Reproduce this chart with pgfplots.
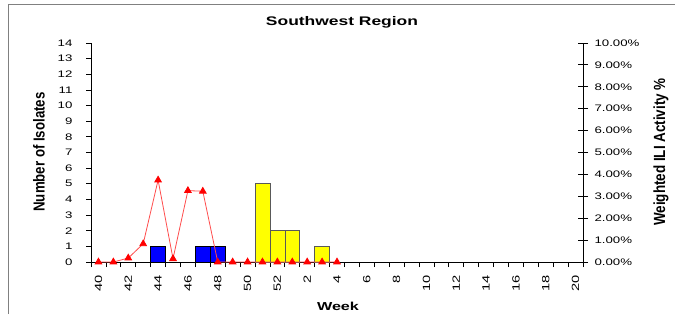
\documentclass[border=0pt]{standalone}
\usepackage{fontspec}
\setmainfont{Liberation Sans}
\newfontfamily\widefont[FakeStretch=1.4]{Liberation Sans}
\usepackage{pgfplots}
\pgfplotsset{compat=1.18}
\definecolor{barblue}{RGB}{0,0,255}
\definecolor{baryellow}{RGB}{255,255,0}
\definecolor{ilired}{RGB}{255,0,0}
\definecolor{framegray}{RGB}{128,128,128}
\begin{document}
\begin{tikzpicture}[x=1bp,y=1bp]
\useasboundingbox (0,0) rectangle (675,314);
\draw[framegray, line width=1bp] (8,0) -- (8,309) -- (675,309);
\begin{axis}[
  at={(91bp,52bp)}, anchor=south west,
  scale only axis, width=492bp, height=219bp,
  xmin=-0.5, xmax=32.5, ymin=0, ymax=14,
  axis x line*=bottom, axis y line*=left,
  axis line style={black, line width=0.8bp, -},
  tick align=outside,
  /pgf/number format/assume math mode=true,
  ytick={0,1,...,14},
  xtick={0,2,...,32},
  xticklabels={40,42,44,46,48,50,52,2,4,6,8,10,12,14,16,18,20},
  major x tick style={draw=none},
  minor xtick={-0.5,0.5,...,32.5},
  minor tick length=5bp,
  major tick length=5bp,
  tick style={black, line width=0.8bp},
  ticklabel style={font=\widefont\fontsize{9.5}{11}\selectfont},
  xticklabel style={font=\widefont\fontsize{10.5}{12}\selectfont, rotate=90, anchor=east, xshift=-5bp},
  yticklabel style={xshift=-10bp},
  clip=false,
]
\addplot[ybar, bar width=1, bar shift=0pt, fill=barblue, draw=black, line width=0.6bp]
  coordinates {(4,1) (7,1) (8,1)};
\addplot[ybar, bar width=1, bar shift=0pt, fill=baryellow, draw=black!65, line width=0.6bp]
  coordinates {(11,5) (12,2) (13,2) (15,1)};
\end{axis}
\begin{axis}[
  at={(91bp,52bp)}, anchor=south west,
  scale only axis, width=492bp, height=219bp,
  xmin=-0.5, xmax=32.5, ymin=0, ymax=10,
  axis x line=none, axis y line*=right,
  axis line style={black, line width=0.8bp, -},
  tick align=center, major tick length=10bp,
  tick style={black, line width=0.8bp},
  ytick={0,1,...,10},
  yticklabels={0.00\%,1.00\%,2.00\%,3.00\%,4.00\%,5.00\%,6.00\%,7.00\%,8.00\%,9.00\%,10.00\%},
  ticklabel style={font=\widefont\fontsize{9.5}{11}\selectfont},
  yticklabel style={xshift=3bp},
  clip=false,
]
\addplot[ilired!70, line width=0.8bp, mark=triangle*, mark size=3.8bp,
  mark options={fill=ilired, draw=ilired}]
  coordinates {(0,0) (1,0) (2,0.18) (3,0.83) (4,3.74) (5,0.15) (6,3.26) (7,3.23)
  (8,0) (9,0) (10,0) (11,0) (12,0) (13,0) (14,0) (15,0) (16,0)};
\end{axis}
\node[font=\widefont\bfseries\fontsize{12.5}{14}\selectfont] at (342,292) {Southwest Region};
\node[font=\widefont\bfseries\fontsize{11.6}{14}\selectfont] at (338,8) {Week};
\node[font=\bfseries\fontsize{13.3}{15}\selectfont, rotate=90] at (39,162) {\scalebox{1}[1.2]{Number of Isolates}};
\node[font=\bfseries\fontsize{13.5}{15}\selectfont, rotate=90] at (661,162) {\scalebox{1}[1.2]{Weighted ILI Activity \%}};
\end{tikzpicture}
\end{document}
